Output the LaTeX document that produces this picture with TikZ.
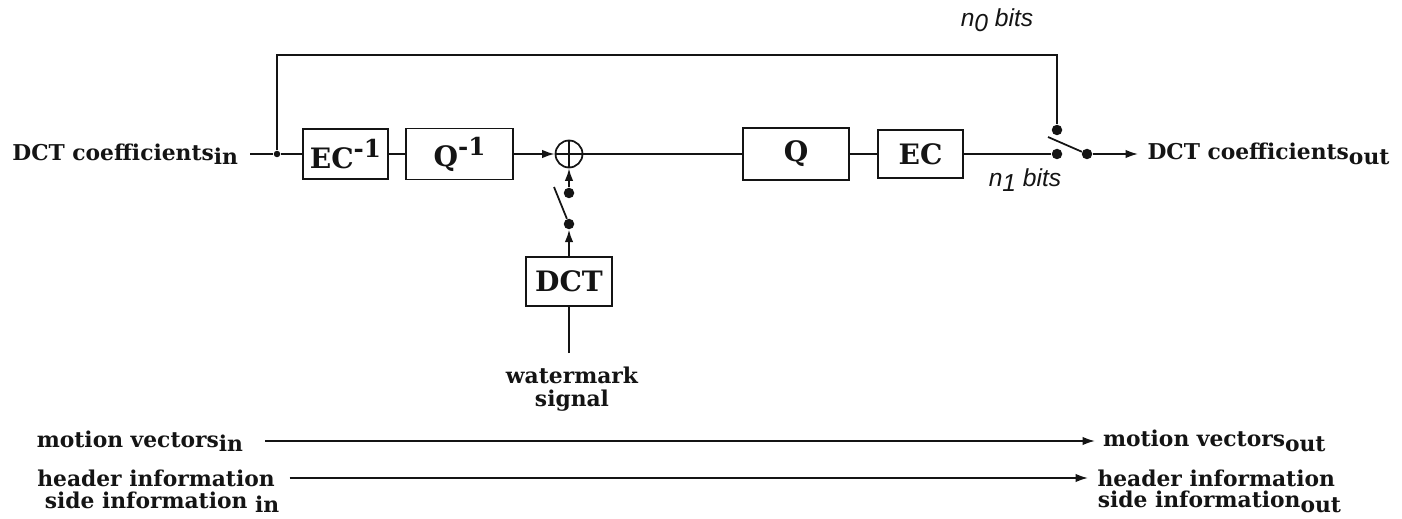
\documentclass[tikz,border=0pt]{standalone}
\usepackage{fontspec}
\setmainfont{DejaVu Serif}
\newfontfamily\bitsfont{Liberation Sans}
\usetikzlibrary{arrows.meta,positioning,calc}
\definecolor{WmInk}{RGB}{20,20,20}
\tikzset{
  wm/box/.style={
    draw=WmInk,
    line width=1pt,
    fill=white,
    align=center,
    text=WmInk,
    inner sep=0pt,
    font=\bfseries\fontsize{16}{18}\selectfont
  },
  wm/line/.style={draw=WmInk, line width=1pt},
  wm/arrow/.style={-{Latex[length=2.5mm,width=1.7mm]}, line width=1pt, draw=WmInk},
  wm/dot/.style={circle, fill=WmInk, inner sep=0pt, minimum size=2.1mm},
  wm/junction/.style={circle, fill=WmInk, inner sep=0pt, minimum size=1.3mm},
  wm/adder/.style={
    circle,
    draw=WmInk,
    line width=1pt,
    minimum size=5.4mm,
    inner sep=0pt,
    path picture={\draw[WmInk,line width=1pt]
      (path picture bounding box.north) -- (path picture bounding box.south)
      (path picture bounding box.west) -- (path picture bounding box.east);}
  },
  wm/label/.style={font=\bfseries\fontsize{12.4}{13}\selectfont, text=WmInk, inner sep=2pt},
  wm/bits/.style={font=\bitsfont\itshape\fontsize{14}{16}\selectfont, text=WmInk}
}
\newcommand{\wmsub}[1]{\raisebox{-0.4ex}{#1}}
\newcommand{\wminv}{\raisebox{0.75ex}{\fontsize{14}{14}\selectfont -1}}

\begin{document}
\begin{tikzpicture}[x=0.2mm,y=-0.2mm]
  \useasboundingbox (0,0) rectangle (1402,519);
  % coefficient path
  \node[wm/label,anchor=east,outer xsep=1.7mm] (cin) at (250,154) {DCT coefficients\wmsub{in}};
  \node[wm/junction] (jn) at (277,154) {};
  \node[wm/box,minimum width=17mm,minimum height=10mm] (ecinv) at (345.5,154) {EC\wminv};
  \node[wm/box,minimum width=21.4mm,minimum height=10.2mm] (qinv) at (459.5,154) {Q\wminv};
  \node[wm/adder] (add) at (569,154) {};
  \node[wm/box,minimum width=21.2mm,minimum height=10.4mm] (q) at (796,154) {Q};
  \node[wm/box,minimum width=17mm,minimum height=9.6mm] (ec) at (920.5,154) {EC};
  % output switch
  \node[wm/dot] (sw1) at (1057,154) {};
  \node[wm/dot] (sw0) at (1057,130) {};
  \node[wm/dot] (swo) at (1087,154) {};
  \coordinate (blade) at (1048,137);
  \coordinate (fb) at (1057,55);
  \node[wm/label,anchor=west,outer xsep=1.2mm] (cout) at (1138,154) {DCT coefficients\wmsub{out}};
  \node[wm/bits] (n0) at (997,20) {n\wmsub{0} bits};
  \node[wm/bits] (n1) at (1025,180) {n\wmsub{1} bits};
  \draw[wm/line] (cin) -- (jn) -- (ecinv) -- (qinv);
  \draw[wm/arrow] (qinv) -- (add);
  \draw[wm/line] (add) -- (q) -- (ec) -- (sw1);
  \draw[wm/line] (jn) |- (fb) -- (sw0);
  \draw[wm/line] (blade) -- (swo);
  \draw[wm/arrow] (swo) -- (cout);
  % watermark branch
  \node[wm/dot] (wm1) at (569,193) {};
  \node[wm/dot] (wm0) at (569,224) {};
  \coordinate (wmblade) at (554,187);
  \node[wm/box,minimum width=17.2mm,minimum height=9.8mm] (dct) at (569,281.5) {DCT};
  \coordinate (wmin) at (569,353);
  \node[wm/label,align=center] (wmsig) at (572,389) {watermark\\signal};
  \draw[wm/arrow] (wm1) -- (add);
  \draw[wm/line] (wmblade) -- (wm0);
  \draw[wm/arrow] (dct) -- (wm0);
  \draw[wm/line] (wmin) -- (dct);
  % side channels
  \node[wm/label,anchor=east,outer xsep=3.7mm] (mvin) at (265,441) {motion vectors\wmsub{in}};
  \node[wm/label,anchor=west,outer xsep=0.9mm] (mvout) at (1095,441) {motion vectors\wmsub{out}};
  \node[wm/label,outer xsep=2.3mm] (hdrin) at (156,478) {header information};
  \node[wm/label] (sidein) at (162,502) {side information \wmsub{in}};
  \node[wm/label,anchor=west,outer xsep=1.2mm] (hdrout) at (1088,478) {header information};
  \node[wm/label,anchor=west] (sideout) at (1094,502) {side information\wmsub{out}};
  \draw[wm/arrow] (mvin) -- (mvout);
  \draw[wm/arrow] (hdrin) -- (hdrout);
\end{tikzpicture}
\end{document}
